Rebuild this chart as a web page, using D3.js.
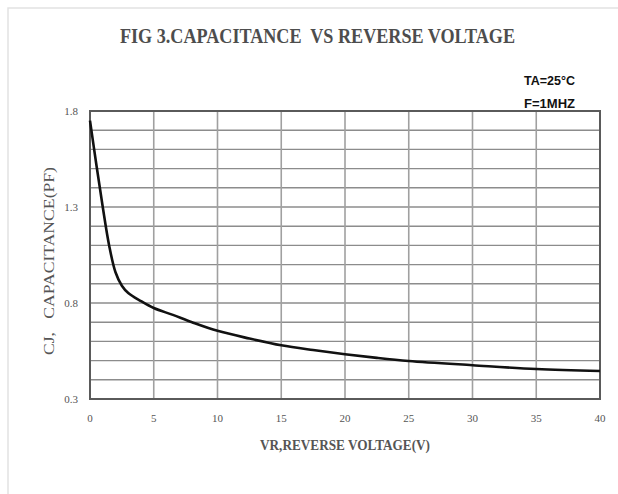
<!DOCTYPE html>
<html lang="en">
<head>
    <meta charset="UTF-8">
    <title>Capacitance vs Reverse Voltage</title>
    <script src="https://d3js.org/d3.v7.min.js"></script>
    <style>
        body {
            margin: 0;
            background-color: #fff;
        }
        svg {
            display: block;
        }
        .tick-label {
            font-family: 'Liberation Serif', serif;
            font-size: 11px;
            fill: #555;
        }
    </style>
</head>
<body>
<script>
    // values
    const voltage = [0, 0.5, 1, 1.5, 2, 2.5, 3, 4, 5, 6.5, 8, 10, 12.5, 15, 17.5, 20, 22.5, 25, 30, 35, 40];
    const capacitance = [1.75, 1.52, 1.30, 1.10, 0.96, 0.89, 0.852, 0.81, 0.774, 0.738, 0.70, 0.655, 0.615, 0.58, 0.555, 0.533, 0.514, 0.498, 0.476, 0.456, 0.446];
    const xTicks = [0, 5, 10, 15, 20, 25, 30, 35, 40];
    const yTicks = [0.3, 0.8, 1.3, 1.8];
    const yGrid = d3.range(3, 19).map(d => d / 10);

    const data = voltage.map((v, i) => ({ v: v, c: capacitance[i] }));

    const W = 618, H = 494;
    const margin = { top: 111, right: 18, bottom: 95, left: 90 };
    const width = W - margin.left - margin.right;
    const height = H - margin.top - margin.bottom;

    const svg = d3.select("body")
        .append("svg")
        .attr("width", W)
        .attr("height", H);

    // faint frame of the scanned picture
    svg.append("path")
        .attr("d", `M8,${H} L8,8 L${W},8`)
        .attr("fill", "none")
        .attr("stroke", "#e2e2e2")
        .attr("stroke-width", 1.5);

    const x = d3.scaleLinear().domain([0, 40]).range([0, width]);
    const y = d3.scaleLinear().domain([0.3, 1.8]).range([height, 0]);

    const g = svg.append("g")
        .attr("transform", "translate(" + margin.left + "," + margin.top + ")");

    // horizontal grid
    g.selectAll(".hgrid")
        .data(yGrid)
        .enter().append("line")
        .attr("x1", 0).attr("x2", width)
        .attr("y1", d => y(d)).attr("y2", d => y(d))
        .attr("stroke", "#8c8c8c")
        .attr("stroke-width", 1.4);

    // vertical grid
    g.selectAll(".vgrid")
        .data(xTicks)
        .enter().append("line")
        .attr("x1", d => x(d)).attr("x2", d => x(d))
        .attr("y1", 0).attr("y2", height)
        .attr("stroke", "#a0a0a0")
        .attr("stroke-width", 1.6);

    g.append("rect")
        .attr("width", width)
        .attr("height", height)
        .attr("fill", "none")
        .attr("stroke", "#5a5a5a")
        .attr("stroke-width", 2);

    const line = d3.line()
        .x(d => x(d.v))
        .y(d => y(d.c))
        .curve(d3.curveCatmullRom.alpha(0.5));

    g.append("path")
        .datum(data)
        .attr("fill", "none")
        .attr("stroke", "#111")
        .attr("stroke-width", 2.6)
        .attr("d", line);

    // tick labels
    g.selectAll(".xlab")
        .data(xTicks)
        .enter().append("text")
        .attr("class", "tick-label")
        .attr("x", d => x(d))
        .attr("y", height + 23)
        .attr("text-anchor", "middle")
        .text(d => d);

    g.selectAll(".ylab")
        .data(yTicks)
        .enter().append("text")
        .attr("class", "tick-label")
        .attr("x", -12)
        .attr("y", d => y(d) + 4)
        .attr("text-anchor", "end")
        .text(d => d.toFixed(1));

    // titles
    svg.append("text")
        .attr("x", 120)
        .attr("y", 43)
        .attr("textLength", 395)
        .attr("lengthAdjust", "spacingAndGlyphs")
        .style("font-family", "'Liberation Serif', serif")
        .style("font-weight", "bold")
        .style("font-size", "21px")
        .attr("fill", "#4d4d4d")
        .text("FIG 3.CAPACITANCE\u00a0 VS REVERSE VOLTAGE");

    svg.append("text")
        .attr("x", 260)
        .attr("y", 450)
        .attr("textLength", 170)
        .attr("lengthAdjust", "spacingAndGlyphs")
        .style("font-family", "'Liberation Serif', serif")
        .style("font-weight", "bold")
        .style("font-size", "15px")
        .attr("fill", "#555")
        .text("VR,REVERSE VOLTAGE(V)");

    svg.append("text")
        .attr("transform", "translate(54,261) rotate(-90)")
        .attr("text-anchor", "middle")
        .attr("textLength", 188)
        .attr("lengthAdjust", "spacingAndGlyphs")
        .style("font-family", "'Liberation Serif', serif")
        .style("font-size", "14px")
        .attr("fill", "#555")
        .text("CJ,\u00a0\u00a0 CAPACITANCE(PF)");

    const notes = ["TA=25°C", "F=1MHZ"];
    svg.selectAll(".note")
        .data(notes)
        .enter().append("text")
        .attr("x", 524)
        .attr("y", (d, i) => 85 + i * 23)
        .attr("textLength", 51)
        .attr("lengthAdjust", "spacingAndGlyphs")
        .style("font-family", "'Liberation Sans', sans-serif")
        .style("font-weight", "bold")
        .style("font-size", "13px")
        .attr("fill", "#111")
        .text(d => d);
</script>
</body>
</html>
